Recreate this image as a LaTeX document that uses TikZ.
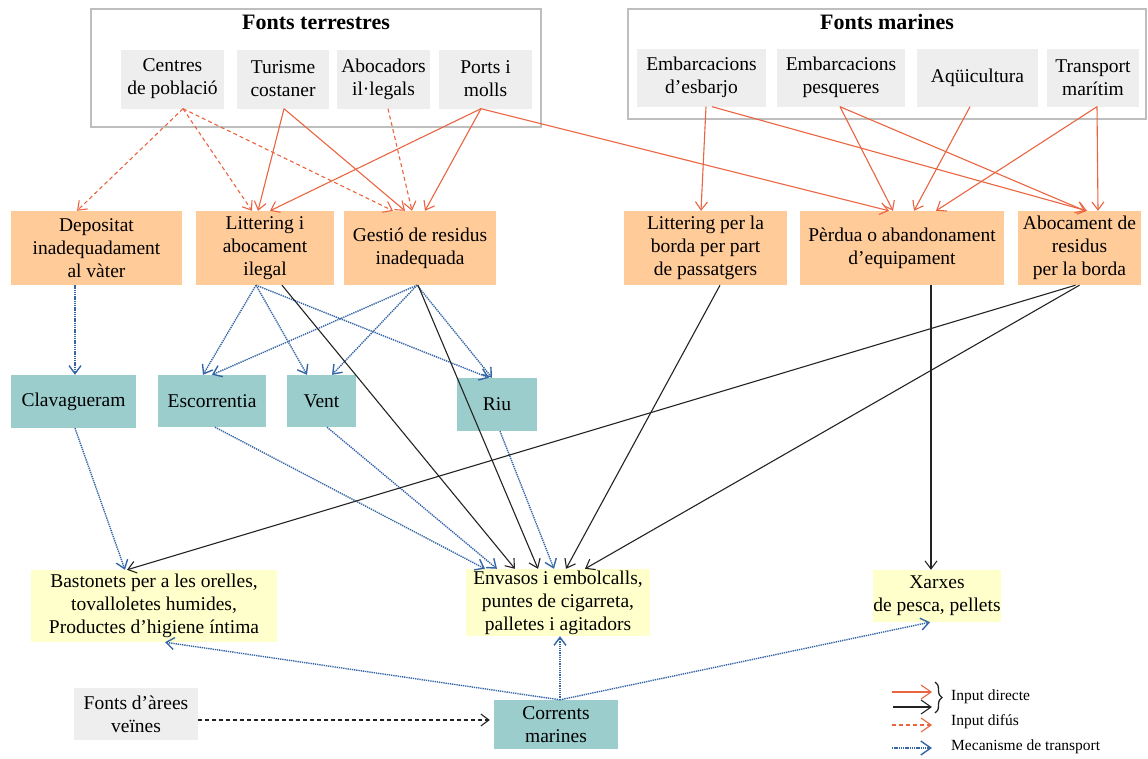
\documentclass[tikz,border=0pt]{standalone}
\usepackage{fontspec}
\setmainfont{Liberation Serif}
\usetikzlibrary{arrows.meta,decorations.pathreplacing}
\definecolor{redc}{RGB}{234,100,64}
\definecolor{bluec}{RGB}{52,101,164}
\definecolor{blackc}{RGB}{35,35,35}
\definecolor{boxgrey}{RGB}{238,238,238}
\definecolor{boxorange}{RGB}{255,203,153}
\definecolor{boxteal}{RGB}{155,205,205}
\definecolor{boxyellow}{RGB}{255,255,204}
\definecolor{framegrey}{RGB}{190,190,190}
\begin{document}
\begin{tikzpicture}[x=1pt,y=-1pt,
  box/.style={inner sep=0pt, align=center, font=\fontsize{19.5}{23}\selectfont, text=black},
  wh/.style 2 args={minimum width=#1pt, minimum height=#2pt},
  grey/.style={box,fill=boxgrey},
  orange/.style={box,fill=boxorange},
  teal/.style={box,fill=boxteal},
  yellow/.style={box,fill=boxyellow},
  frame/.style={draw=framegrey, line width=1.2pt, inner sep=0pt},
  title/.style={font=\fontsize{22}{24}\selectfont\bfseries, inner sep=0pt},
  tip/.style={-{Straight Barb[length=8pt,width=12pt]}},
  rarr/.style={draw=redc, line width=1.1pt, tip},
  rdash/.style={rarr, dash pattern=on 4pt off 3pt},
  karr/.style={draw=blackc, line width=1.1pt, tip},
  kdash/.style={karr, dash pattern=on 4pt off 3pt},
  tarr/.style={draw=bluec, line width=1.4pt, dash pattern=on 1.3pt off 0.9pt, tip},
  legtext/.style={font=\fontsize{15.5}{17}\selectfont, inner sep=0pt, anchor=west},
  legtip/.style={-{Straight Barb[length=10pt,width=14pt]}},
]
\useasboundingbox (0,0) rectangle (1148,758);

% frames
\node[frame, wh={450}{118}] (ft) at (316,68) {};
\node[title] (ftt) at (316,22) {Fonts terrestres};
\node[frame, wh={518}{110}] (fm) at (887,64) {};
\node[title] (fmt) at (887,22) {Fonts marines};

% source boxes
\node[grey, wh={103}{59}] (cp) at (172.5,79) {Centres\\de població};
\node[grey, wh={92}{59}] (tc) at (283,79) {Turisme\\costaner};
\node[grey, wh={93}{59}] (ai) at (383.5,79) {Abocadors\\il·legals};
\node[grey, wh={93}{59}] (pm) at (485.5,79) {Ports i\\molls};
\node[grey, wh={129}{58}] (ee) at (701.5,77.5) {Embarcacions\\d’esbarjo};
\node[grey, wh={128}{58}] (ep) at (841,77.5) {Embarcacions\\pesqueres};
\node[grey, wh={121}{58}] (aq) at (977.5,77.5) {Aqüicultura};
\node[grey, wh={92}{58}] (tm) at (1093,77.5) {Transport\\marítim};

% pathways
\node[orange, wh={171}{74}] (dep) at (96.5,248) {Depositat\\inadequadament\\al vàter};
\node[orange, wh={138}{74}] (lit) at (265,248) {Littering i\\abocament\\ilegal};
\node[orange, wh={152}{74}] (ges) at (420,248) {Gestió de residus\\inadequada};
\node[orange, wh={163}{74}] (lb) at (705.5,248) {Littering per la\\borda per part\\de passatgers};
\node[orange, wh={204}{74}] (per) at (902,248) {Pèrdua o abandonament\\d’equipament};
\node[orange, wh={123}{74}] (abo) at (1079.5,248) {Abocament de\\residus\\per la borda};

% transport
\node[teal, wh={125}{53}] (cla) at (73.5,401.5) {Clavagueram};
\node[teal, wh={108}{52}] (esc) at (212,401) {Escorrentia};
\node[teal, wh={69}{52}] (ven) at (321.5,401) {Vent};
\node[teal, wh={80}{53}] (riu) at (497,404.5) {Riu};

% items
\node[yellow, wh={246}{72}] (bas) at (154,606) {Bastonets per a les orelles,\\tovalloletes humides,\\Productes d’higiene íntima};
\node[yellow, wh={184}{67}] (env) at (558,602.5) {Envasos i embolcalls,\\puntes de cigarreta,\\palletes i agitadors};
\node[yellow, wh={126}{52}] (xar) at (937,596) {Xarxes\\de pesca, pellets};
\node[grey, wh={124}{52}] (fav) at (136,714) {Fonts d’àrees\\veïnes};
\node[teal, wh={124}{49}] (cor) at (556,724.5) {Corrents\\marines};

% input difus
\draw[rdash] ([xshift=10.5pt]cp.south) -- ([xshift=-19.5pt]dep.north);
\draw[rdash] ([xshift=10.5pt]cp.south) -- ([xshift=-13pt]lit.north);
\draw[rdash] ([xshift=10.5pt]cp.south) -- ([xshift=-27pt]ges.north);
\draw[rdash] ([xshift=4.5pt]ai.south) -- ([xshift=-8pt]ges.north);

% input directe (red)
\draw[rarr] ([xshift=1pt]tc.south) -- ([xshift=-7pt]lit.north);
\draw[rarr] ([xshift=1pt]tc.south) -- ([xshift=-15pt]ges.north);
\draw[rarr] ([xshift=-4.5pt]pm.south) -- ([xshift=5pt]lit.north);
\draw[rarr] ([xshift=-4.5pt]pm.south) -- ([xshift=5pt]ges.north);
\draw[rarr] ([xshift=-4.5pt]pm.south) -- ([xshift=-13pt]per.north);
\draw[rarr] ([xshift=4.5pt]ee.south) -- ([xshift=-4.5pt]lb.north);
\draw[rarr] ([xshift=10.5pt]ee.south) -- ([xshift=7.5pt]abo.north);
\draw[rarr] ([xshift=-1pt]ep.south) -- ([xshift=-9pt]per.north);
\draw[rarr] ([xshift=-1pt]ep.south) -- ([xshift=5.5pt]abo.north);
\draw[rarr] ([xshift=-7.5pt]aq.south) -- ([xshift=12pt]per.north);
\draw[rarr] ([xshift=4pt]tm.south) -- ([xshift=34pt]per.north);
\draw[rarr] ([xshift=4pt]tm.south) -- ([xshift=18.5pt]abo.north);

% transport mechanisms
\draw[tarr] ([xshift=-21.5pt]dep.south) -- ([xshift=1.5pt]cla.north);
\draw[tarr] ([xshift=-9pt]lit.south) -- ([xshift=-9pt]esc.north);
\draw[tarr] ([xshift=-9pt]lit.south) -- ([xshift=-14.5pt]ven.north);
\draw[tarr] ([xshift=-9pt]lit.south) -- ([xshift=-8pt]riu.north);
\draw[tarr] ([xshift=-3pt]ges.south) -- ([xshift=0pt]esc.north);
\draw[tarr] ([xshift=-3pt]ges.south) -- ([xshift=10.5pt]ven.north);
\draw[tarr] ([xshift=-3pt]ges.south) -- ([xshift=-5pt]riu.north);
\draw[tarr] ([xshift=1.5pt]cla.south) -- ([xshift=-29pt]bas.north);
\draw[tarr] ([xshift=3pt]esc.south) -- ([xshift=-73pt]env.north);
\draw[tarr] ([xshift=5.5pt]ven.south) -- ([xshift=-61pt]env.north);
\draw[tarr] ([xshift=3pt]riu.south) -- ([xshift=-4pt]env.north);
\draw[tarr] ([xshift=4pt]cor.north) -- ([xshift=11pt]bas.south);
\draw[tarr] ([xshift=4pt]cor.north) -- ([xshift=2pt]env.south);
\draw[tarr] ([xshift=4pt]cor.north) -- ([xshift=-7pt]xar.south);

% input directe (black)
\draw[karr] ([xshift=17pt]lit.south) -- ([xshift=-43pt]env.north);
\draw[karr] ([xshift=-2pt]ges.south) -- ([xshift=-20pt]env.north);
\draw[karr] ([xshift=14.5pt]lb.south) -- ([xshift=8pt]env.north);
\draw[karr] ([xshift=0pt]abo.south) -- ([xshift=27pt]env.north);
\draw[karr] ([xshift=-4pt]abo.south) -- ([xshift=-27pt]bas.north);
\draw[karr] ([xshift=29pt]per.south) -- ([xshift=-6pt]xar.north);
\draw[kdash] ([yshift=-6pt]fav.east) -- ([yshift=4.5pt,xshift=-4pt]cor.west);

% legend
\coordinate (l1a) at (892,692); \coordinate (l1b) at (932,692);
\coordinate (l2a) at (893,707); \coordinate (l2b) at (932,707);
\coordinate (l3a) at (892,725); \coordinate (l3b) at (932,725);
\coordinate (l4a) at (892,748); \coordinate (l4b) at (932,748);
\coordinate (br1) at (935,682); \coordinate (br2) at (935,713);
\draw[rarr, legtip] (l1a) -- (l1b);
\draw[karr, legtip] (l2a) -- (l2b);
\draw[rdash, legtip] (l3a) -- (l3b);
\draw[tarr, legtip] (l4a) -- (l4b);
\draw[blackc, line width=1.3pt, decorate, decoration={brace, amplitude=7pt}] (br1) -- (br2);
\node[legtext] (lg1) at (951,697) {Input directe};
\node[legtext] (lg2) at (951,722) {Input difús};
\node[legtext] (lg3) at (951,747) {Mecanisme de transport};
\end{tikzpicture}
\end{document}
